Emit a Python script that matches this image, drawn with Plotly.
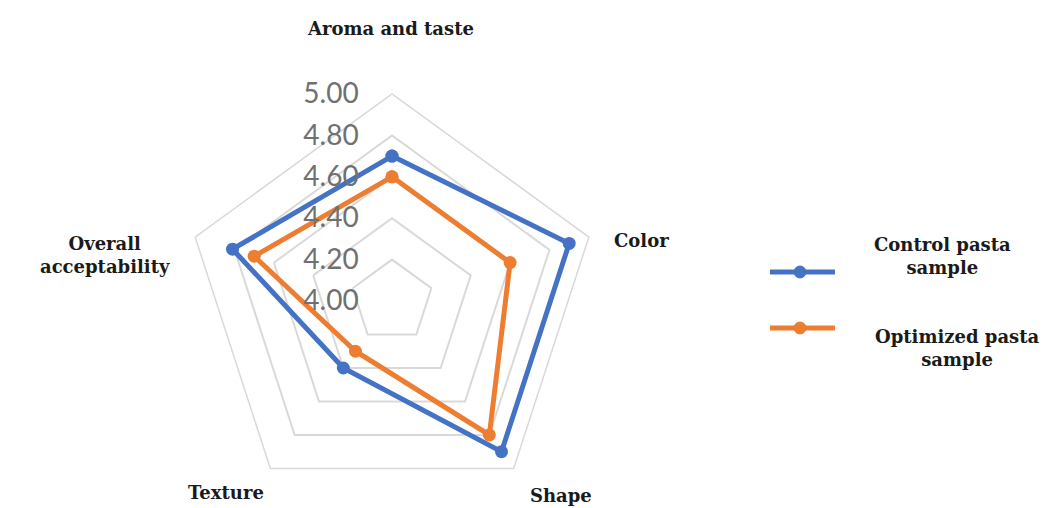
import plotly.graph_objects as go

categories = ["Aroma and taste", "Color", "Shape", "Texture", "Overall acceptability"]
control = [4.70, 4.90, 4.90, 4.40, 4.81]
optimized = [4.60, 4.60, 4.80, 4.30, 4.70]
series_names = ["Control pasta sample", "Optimized pasta sample"]
tick_vals = [4.00, 4.20, 4.40, 4.60, 4.80, 5.00]
tick_text = ["4.00", "4.20", "4.40", "4.60", "4.80", "5.00"]

BLUE = "#4472C4"
ORANGE = "#ED7D31"
W, H = 1059, 508
PAD = "\u00a0" * 4

fig = go.Figure()
for name, vals, col in [(series_names[0], control, BLUE), (series_names[1], optimized, ORANGE)]:
    fig.add_trace(go.Scatterpolar(
        r=vals + vals[:1], theta=categories + categories[:1],
        mode="lines+markers", name=name,
        line=dict(color=col, width=5),
        marker=dict(color=col, size=13),
        showlegend=False,
    ))

cx, cy, R = 392, 301, 207
fig.update_layout(
    width=W, height=H,
    margin=dict(l=0, r=0, t=0, b=0),
    paper_bgcolor="white", plot_bgcolor="white",
    polar=dict(
        domain=dict(x=[(cx - R) / W, (cx + R) / W], y=[0, 2 * R / H]),
        bgcolor="white",
        gridshape="linear",
        angularaxis=dict(
            rotation=90, direction="clockwise",
            showgrid=False, showticklabels=False, ticks="",
            showline=True, linecolor="#d9d9d9", linewidth=1.5,
        ),
        radialaxis=dict(
            range=[4.0, 5.0], angle=90, tickangle=90,
            tickvals=tick_vals, ticktext=[t + PAD for t in tick_text],
            showline=False, ticks="", side="counterclockwise",
            gridcolor="#d9d9d9", gridwidth=1.5,
            tickfont=dict(family="Lato", size=28, color="#707070"),
        ),
    ),
)

lab_font = dict(family="DejaVu Serif", size=18, color="#1a1a1a", weight="bold")
labels = [
    ("Aroma and taste", 390, 28),
    ("Color", 641, 240),
    ("Shape", 561, 495),
    ("Texture", 226, 492),
    ("Overall<br>acceptability", 105, 255),
]
for txt, x, y in labels:
    fig.add_annotation(text=txt, x=x / W, y=1 - y / H, xref="paper", yref="paper",
                       showarrow=False, font=lab_font, align="center",
                       xanchor="center", yanchor="middle")

# custom legend
leg = [(series_names[0], BLUE, 272, "Control pasta<br>sample", 942, 256),
       (series_names[1], ORANGE, 328, "Optimized pasta<br>sample", 957, 348)]
for name, col, ly, txt, tx, ty in leg:
    fig.add_shape(type="line", xref="paper", yref="paper",
                  x0=770 / W, x1=835 / W, y0=1 - ly / H, y1=1 - ly / H,
                  line=dict(color=col, width=5))
    fig.add_shape(type="circle", xref="paper", yref="paper",
                  x0=794 / W, x1=806 / W, y0=1 - (ly + 6) / H, y1=1 - (ly - 6) / H,
                  fillcolor=col, line=dict(color=col, width=1))
    fig.add_annotation(text=txt, x=tx / W, y=1 - ty / H, xref="paper", yref="paper",
                       showarrow=False, font=lab_font, align="center",
                       xanchor="center", yanchor="middle")

fig.write_html("out.html")
